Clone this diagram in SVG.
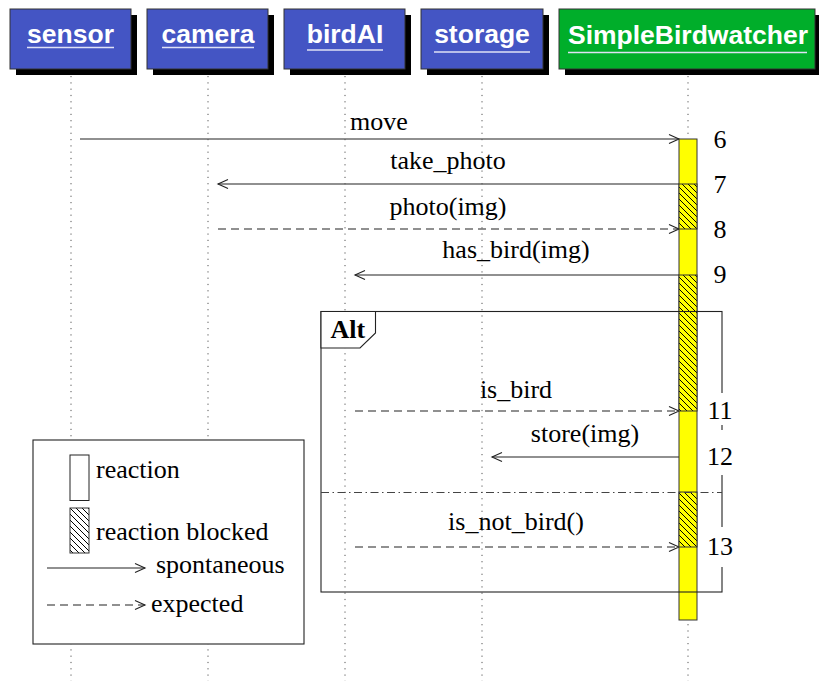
<svg xmlns="http://www.w3.org/2000/svg" width="819" height="681" viewBox="0 0 819 681">
  <style>
    .hdr { font-family: "Liberation Sans", Arial, sans-serif; font-weight: bold; font-size: 26.5px; fill: #ffffff; text-anchor: middle; }
    .ul { stroke: #dfe2f6; stroke-width: 1.5; }
    .box { stroke: #333333; stroke-width: 1; }
    .shadow { fill: #000000; }
    .lbl { font-family: "Liberation Serif", "Times New Roman", serif; font-size: 26px; fill: #000000; }
    .mid { text-anchor: middle; }
    .msg { stroke: #222222; stroke-width: 1.1; fill: none; marker-end: url(#open); }
    .exp { stroke-dasharray: 8 5; }
    .life { stroke: #555555; stroke-width: 1; stroke-dasharray: 1.2 5.1; }
    .act { fill: #ffff00; stroke: #333333; stroke-width: 1; }
    .blk { fill: url(#hatch); stroke: #333333; stroke-width: 1; }
    .frame { fill: none; stroke: #222222; stroke-width: 1.1; }
  </style>
  <defs>
    <marker id="open" markerUnits="userSpaceOnUse" markerWidth="12" markerHeight="11" refX="10" refY="4.5" orient="auto" overflow="visible">
      <path d="M0,0 L10,4.5 L0,9" fill="none" stroke="#222222" stroke-width="1.1" stroke-dasharray="none"/>
    </marker>
    <pattern id="hatch" patternUnits="userSpaceOnUse" width="6" height="6">
      <rect width="6" height="6" fill="#ffff00"/>
      <path d="M0,0 L6,6 M-1,5 L1,7 M5,-1 L7,1" stroke="#000000" stroke-width="1"/>
    </pattern>
    <pattern id="hatchWhite" patternUnits="userSpaceOnUse" width="6" height="6">
      <rect width="6" height="6" fill="#ffffff"/>
      <path d="M0,0 L6,6 M-1,5 L1,7 M5,-1 L7,1" stroke="#000000" stroke-width="1"/>
    </pattern>
  </defs>

  <!-- lifeline heads -->
  <g id="sensor">
    <rect class="shadow" x="16" y="15" width="121" height="60"/>
    <rect class="box" x="10" y="9" width="121" height="60" fill="#4455c4"/>
    <text class="hdr" x="70.5" y="43">sensor</text>
    <line class="ul" x1="27" y1="47.5" x2="114" y2="47.5"/>
  </g>
  <g id="camera">
    <rect class="shadow" x="153" y="15" width="121" height="60"/>
    <rect class="box" x="147" y="9" width="121" height="60" fill="#4455c4"/>
    <text class="hdr" x="208" y="43">camera</text>
    <line class="ul" x1="162" y1="47.5" x2="254" y2="47.5"/>
  </g>
  <g id="birdAI">
    <rect class="shadow" x="290" y="15" width="121" height="60"/>
    <rect class="box" x="284" y="9" width="121" height="60" fill="#4455c4"/>
    <text class="hdr" x="345" y="43">birdAI</text>
    <line class="ul" x1="307" y1="50" x2="383" y2="50"/>
  </g>
  <g id="storage">
    <rect class="shadow" x="427" y="15" width="122" height="60"/>
    <rect class="box" x="421" y="9" width="122" height="60" fill="#4455c4"/>
    <text class="hdr" x="482" y="43">storage</text>
    <line class="ul" x1="434" y1="52" x2="530" y2="52"/>
  </g>
  <g id="SimpleBirdwatcher">
    <rect class="shadow" x="565" y="15" width="256" height="60"/>
    <rect class="box" x="559" y="9" width="256" height="60" fill="#00ae2a"/>
    <text class="hdr" x="688" y="44">SimpleBirdwatcher</text>
    <line class="ul" x1="568" y1="52.5" x2="807" y2="52.5"/>
  </g>

  <!-- messages -->
  <g id="connectors">
    <line class="msg" x1="80" y1="139" x2="679" y2="139"/>
    <text class="lbl mid" x="379" y="130">move</text>
    <line class="msg" x1="679" y1="184" x2="218" y2="184"/>
    <text class="lbl mid" x="448" y="169">take_photo</text>
    <line class="msg exp" x1="218" y1="229" x2="679" y2="229"/>
    <text class="lbl mid" x="448" y="215">photo(img)</text>
    <line class="msg" x1="679" y1="275" x2="355" y2="275"/>
    <text class="lbl mid" x="516" y="258">has_bird(img)</text>
    <line class="msg exp" x1="355" y1="411" x2="679" y2="411"/>
    <text class="lbl mid" x="516" y="398">is_bird</text>
    <line class="msg" x1="679" y1="457" x2="492" y2="457"/>
    <text class="lbl mid" x="585" y="442">store(img)</text>
    <line class="msg exp" x1="355" y1="547" x2="679" y2="547"/>
    <text class="lbl mid" x="516" y="530">is_not_bird()</text>
  </g>

  <!-- lifelines -->
  <g id="lifelines">
    <line class="life" x1="71" y1="76" x2="71" y2="681"/>
    <line class="life" x1="208" y1="76" x2="208" y2="681"/>
    <line class="life" x1="345" y1="76" x2="345" y2="681"/>
    <line class="life" x1="482" y1="76" x2="482" y2="681"/>
    <line class="life" x1="688" y1="76" x2="688" y2="681"/>
  </g>

  <!-- activation of SimpleBirdwatcher -->
  <g id="activation">
    <rect class="act" x="679" y="139" width="18" height="481"/>
    <rect class="blk" x="679" y="184" width="18" height="45"/>
    <rect class="blk" x="679" y="275" width="18" height="136"/>
    <rect class="blk" x="679" y="492" width="18" height="55"/>
  </g>

  <!-- alternative fragment -->
  <g id="alt">
    <rect class="frame" x="321" y="311.5" width="401" height="280.5"/>
    <path d="M321,311.5 L375.5,311.5 L375.5,333 L360,348 L321,348 Z" fill="#ffffff" stroke="#222222" stroke-width="1.1"/>
    <text x="330.5" y="338" font-family="Liberation Serif, Times New Roman, serif" font-weight="bold" font-size="26">Alt</text>
    <line x1="321" y1="492.5" x2="722" y2="492.5" stroke="#444444" stroke-width="1.1" stroke-dasharray="8 3.5 1.5 3.5"/>
  </g>

  <!-- step numbers -->
  <g id="steps">
    <rect x="706" y="393" width="30" height="32" fill="#ffffff"/>
    <rect x="706" y="430" width="30" height="45" fill="#ffffff"/>
    <rect x="706" y="527" width="30" height="40" fill="#ffffff"/>
    <text class="lbl mid" x="720" y="148">6</text>
    <text class="lbl mid" x="720" y="193">7</text>
    <text class="lbl mid" x="720" y="238">8</text>
    <text class="lbl mid" x="720" y="283">9</text>
    <text class="lbl mid" x="720" y="419">11</text>
    <text class="lbl mid" x="720" y="465">12</text>
    <text class="lbl mid" x="720" y="555">13</text>
  </g>

  <!-- legend -->
  <g id="legend">
    <rect x="33" y="440" width="271" height="204" fill="#ffffff" stroke="#222222" stroke-width="1.1"/>
    <rect x="70" y="455" width="19" height="45.5" fill="#ffffff" stroke="#222222" stroke-width="1"/>
    <text class="lbl" x="96" y="478">reaction</text>
    <rect x="70" y="508" width="19" height="45" fill="url(#hatchWhite)" stroke="#333333" stroke-width="1"/>
    <text class="lbl" x="96" y="540">reaction blocked</text>
    <line class="msg" x1="47" y1="568" x2="145" y2="568"/>
    <text class="lbl" x="156" y="573">spontaneous</text>
    <line class="msg exp" x1="47" y1="605" x2="145" y2="605"/>
    <text class="lbl" x="151" y="612">expected</text>
  </g>
</svg>
